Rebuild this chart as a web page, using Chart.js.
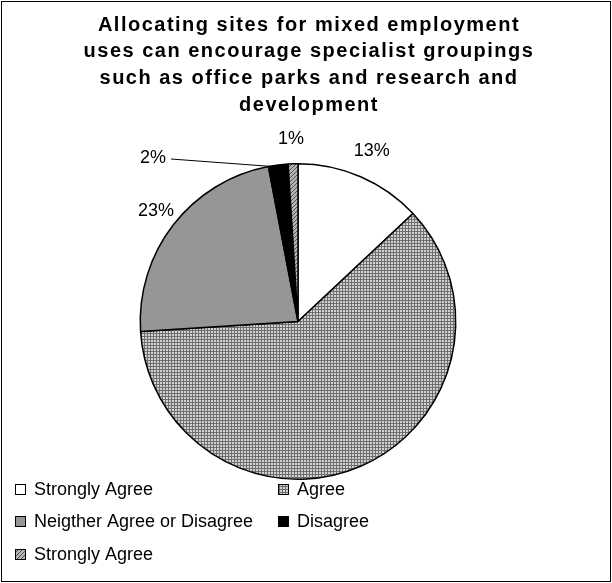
<!DOCTYPE html>
<html>
<head>
<meta charset="utf-8">
<script src="https://cdn.jsdelivr.net/npm/chart.js@4"></script>
<style>
  html, body { margin: 0; padding: 0; background: #fff; }
  #wrap { width: 612px; height: 583px; }
</style>
</head>
<body>
<div id="wrap"><canvas id="pie_chart" width="612" height="583"></canvas></div>
<script>
const titleLines = [
    'Allocating sites for mixed employment',
    'uses can encourage specialist groupings',
    'such as office parks and research and',
    'development'
];
const labels = ['Strongly Agree', 'Agree', 'Neigther Agree or Disagree', 'Disagree', 'Strongly Agree'];
const values = [13, 61, 23, 2, 1];
const shownLabels = ['13%', '', '23%', '2%', '1%'];

const FONT = '"Liberation Sans", Arial, sans-serif';

// small canvas patterns like the old office fills
function makePattern(size, draw) {
    const c = document.createElement('canvas');
    c.width = size; c.height = size;
    const g = c.getContext('2d');
    draw(g);
    return document.getElementById('pie_chart').getContext('2d').createPattern(c, 'repeat');
}
const gridFill = makePattern(3, g => {
    g.fillStyle = '#d2d2d2'; g.fillRect(0, 0, 3, 3);
    g.fillStyle = '#6e6e6e'; g.fillRect(0, 0, 3, 1); g.fillRect(0, 0, 1, 3);
});
const hatchFill = makePattern(4, g => {
    g.fillStyle = '#b4b4b4'; g.fillRect(0, 0, 4, 4);
    g.fillStyle = '#505050';
    for (let i = 0; i < 4; i++) { g.fillRect(i, 3 - i, 1, 1); }
});
const colors = ['#ffffff', gridFill, '#969696', '#000000', hatchFill];

// frame, white background and the spaced-out bold title
const framePlugin = {
    id: 'frame',
    beforeDraw(chart) {
        const ctx = chart.ctx;
        ctx.save();
        ctx.fillStyle = '#fff';
        ctx.fillRect(0, 0, chart.width, chart.height);
        ctx.restore();
    },
    afterDraw(chart) {
        const ctx = chart.ctx;
        ctx.save();
        ctx.strokeStyle = '#000';
        ctx.lineWidth = 1;
        ctx.strokeRect(1.5, 1.5, chart.width - 3, chart.height - 3);
        ctx.font = 'bold 20px ' + FONT;
        ctx.fillStyle = '#000';
        ctx.textAlign = 'center';
        ctx.textBaseline = 'middle';
        if ('letterSpacing' in ctx) ctx.letterSpacing = '1.5px';
        titleLines.forEach((line, i) => {
            ctx.fillText(line, 309, 25 + i * 26.7);
        });
        ctx.restore();
    }
};

// percentage labels outside the slices
const pctPlugin = {
    id: 'pctLabels',
    afterDatasetsDraw(chart) {
        const ctx = chart.ctx;
        const meta = chart.getDatasetMeta(0);
        ctx.save();
        ctx.font = '18px ' + FONT;
        ctx.fillStyle = '#000';
        ctx.textAlign = 'center';
        ctx.textBaseline = 'middle';
        const offsets = [28, 0, 22, 0, 24];
        meta.data.forEach((arc, i) => {
            if (!shownLabels[i]) return;
            const mid = (arc.startAngle + arc.endAngle) / 2;
            let r = arc.outerRadius + offsets[i];
            let x = arc.x + Math.cos(mid) * r;
            let y = arc.y + Math.sin(mid) * r;
            if (i === 3) {
                // small slice: label pulled out to the left with a leader line
                x = 153; y = 158;
                const ex = arc.x + Math.cos(mid) * (arc.outerRadius - 2);
                const ey = arc.y + Math.sin(mid) * (arc.outerRadius - 2);
                ctx.beginPath();
                ctx.strokeStyle = '#000';
                ctx.lineWidth = 1;
                ctx.moveTo(x + 18, y + 1);
                ctx.lineTo(ex, ey);
                ctx.stroke();
            }
            if (i === 4) { x = arc.x - 7; y = 139; }
            ctx.fillText(shownLabels[i], x, y);
        });
        ctx.restore();
    }
};

// two column legend like the original
const legendPlugin = {
    id: 'twoColLegend',
    afterDraw(chart) {
        const ctx = chart.ctx;
        const colX = [15, 278];
        const rowY = [489, 521, 554];
        ctx.save();
        ctx.font = '18px ' + FONT;
        ctx.textBaseline = 'middle';
        ctx.textAlign = 'left';
        labels.forEach((lab, i) => {
            const x = colX[i % 2];
            const y = rowY[Math.floor(i / 2)];
            ctx.fillStyle = colors[i];
            ctx.fillRect(x, y - 5, 11, 11);
            ctx.strokeStyle = '#000';
            ctx.lineWidth = 1;
            ctx.strokeRect(x + 0.5, y - 4.5, 10, 10);
            ctx.fillStyle = '#000';
            ctx.fillText(lab, x + 19, y + 1);
        });
        ctx.restore();
    }
};

const ctx = document.getElementById('pie_chart').getContext('2d');

new Chart(ctx, {
    type: 'pie',
    data: {
        labels: labels,
        datasets: [{
            data: values,
            backgroundColor: colors,
            borderColor: '#000',
            borderWidth: 1.5
        }]
    },
    options: {
        responsive: false,
        animation: false,
        layout: {
            padding: { top: 163, bottom: 103, left: 0, right: 16 }
        },
        plugins: {
            legend: { display: false },
            tooltip: { enabled: false },
            title: { display: false }
        }
    },
    plugins: [framePlugin, pctPlugin, legendPlugin]
});
</script>
</body>
</html>
